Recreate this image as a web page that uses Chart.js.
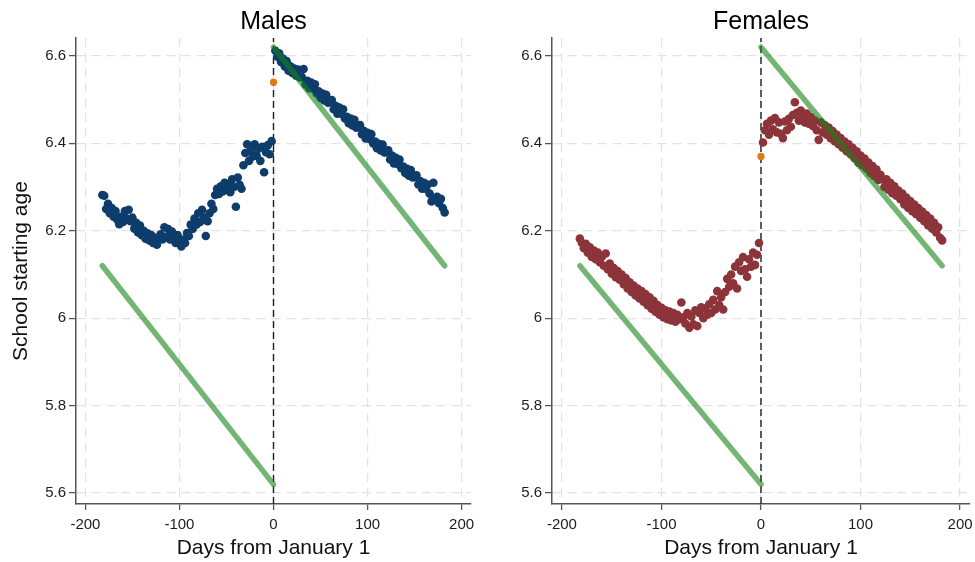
<!DOCTYPE html>
<html><head><meta charset="utf-8">
<script src="https://cdn.jsdelivr.net/npm/chart.js@4.4.0/dist/chart.umd.min.js"></script>
<style>
html,body{margin:0;padding:0;background:#fff;width:975px;height:562px;overflow:hidden}
#left{position:absolute;left:0;top:0}
#right{position:absolute;left:490px;top:0}
</style></head><body>
<canvas id="left" width="490" height="562"></canvas>
<canvas id="right" width="485" height="562"></canvas>
<script>
// ---------- data ----------
const daysBefore = [-182,-180,-178,-176,-174,-172,-170,-168,-166,-164,
  -162,-160,-158,-156,-154,-152,-150,-148,-146,-144,
  -142,-140,-138,-136,-134,-132,-130,-128,-126,-124,
  -122,-120,-118,-116,-114,-112,-110,-108,-106,-104,
  -102,-100,-98,-96,-94,-92,-90,-88,-86,-84,
  -82,-80,-78,-76,-74,-72,-70,-68,-66,-64,
  -62,-60,-58,-56,-54,-52,-50,-48,-46,-44,
  -42,-40,-38,-36,-34,-32,-30,-28,-26,-24,
  -22,-20,-18,-16,-14,-12,-10,-8,-6,-4,
  -2];
const daysAfter = [2,4,6,8,10,12,14,16,18,20,
  22,24,26,28,30,32,34,36,38,40,
  42,44,46,48,50,52,54,56,58,60,
  62,64,66,68,70,72,74,76,78,80,
  82,84,86,88,90,92,94,96,98,100,
  102,104,106,108,110,112,114,116,118,120,
  122,124,126,128,130,132,134,136,138,140,
  142,144,146,148,150,152,154,156,158,160,
  162,164,166,168,170,172,174,176,178,180,
  182];
const malesBefore = [6.282,6.280,6.250,6.262,6.240,6.252,6.232,6.245,6.225,6.215,
  6.232,6.220,6.245,6.228,6.248,6.222,6.230,6.205,6.218,6.196,
  6.212,6.190,6.200,6.182,6.194,6.178,6.190,6.172,6.184,6.168,
  6.180,6.192,6.180,6.208,6.186,6.204,6.180,6.198,6.184,6.172,
  6.190,6.176,6.164,6.180,6.172,6.195,6.188,6.214,6.204,6.228,
  6.214,6.240,6.220,6.248,6.230,6.188,6.222,6.240,6.262,6.250,
  6.282,6.296,6.284,6.302,6.290,6.310,6.294,6.305,6.288,6.318,
  6.300,6.255,6.322,6.305,6.296,6.350,6.378,6.398,6.360,6.385,
  6.370,6.398,6.372,6.388,6.360,6.392,6.334,6.380,6.396,6.375,
  6.405];
const malesAfter = [6.612,6.598,6.606,6.586,6.594,6.576,6.588,6.566,6.576,6.561,
  6.571,6.555,6.569,6.551,6.552,6.570,6.535,6.543,6.526,6.539,
  6.525,6.535,6.514,6.519,6.504,6.514,6.498,6.511,6.493,6.495,
  6.499,6.478,6.486,6.468,6.482,6.468,6.478,6.457,6.461,6.446,
  6.457,6.441,6.454,6.436,6.437,6.442,6.421,6.429,6.411,6.424,
  6.410,6.421,6.400,6.404,6.389,6.399,6.384,6.397,6.379,6.380,
  6.384,6.363,6.372,6.354,6.367,6.353,6.363,6.343,6.347,6.332,
  6.342,6.326,6.339,6.322,6.323,6.327,6.306,6.314,6.296,6.310,
  6.296,6.306,6.285,6.267,6.310,6.274,6.278,6.263,6.273,6.252,
  6.242];
const femalesBefore = [6.182,6.172,6.160,6.170,6.150,6.162,6.140,6.155,6.135,6.150,
  6.128,6.140,6.120,6.148,6.112,6.125,6.102,6.115,6.094,6.108,
  6.088,6.100,6.078,6.092,6.068,6.082,6.060,6.075,6.052,6.068,
  6.045,6.062,6.038,6.055,6.030,6.048,6.022,6.040,6.015,6.030,
  6.008,6.024,6.002,6.018,5.998,6.015,5.995,6.012,5.992,6.008,
  5.998,6.036,6.002,5.988,6.012,5.978,6.004,5.986,6.018,5.982,
  6.012,6.025,6.000,6.022,6.008,6.032,6.012,6.042,6.020,6.062,
  6.030,6.048,6.020,6.060,6.090,6.072,6.100,6.080,6.118,6.068,
  6.128,6.108,6.140,6.112,6.095,6.135,6.118,6.150,6.122,6.145,
  6.172];
const femalesAfter = [6.402,6.430,6.445,6.420,6.452,6.432,6.458,6.425,6.448,6.422,
  6.412,6.450,6.430,6.456,6.438,6.465,6.494,6.470,6.452,6.475,
  6.458,6.448,6.468,6.445,6.460,6.440,6.452,6.430,6.408,6.448,
  6.425,6.442,6.420,6.436,6.412,6.428,6.405,6.420,6.398,6.412,
  6.390,6.404,6.382,6.398,6.375,6.390,6.366,6.382,6.356,6.372,
  6.350,6.365,6.342,6.356,6.332,6.348,6.325,6.340,6.316,6.328,
  6.318,6.300,6.318,6.294,6.310,6.286,6.302,6.280,6.292,6.272,
  6.285,6.260,6.276,6.252,6.268,6.245,6.260,6.238,6.252,6.230,
  6.244,6.222,6.236,6.212,6.228,6.205,6.218,6.196,6.208,6.184,
  6.178];
const cutoffDay = 0;
const malesAtCutoff = 6.54;
const femalesAtCutoff = 6.37;
const idealDaysBefore = [-182, 0];
const idealAgeBefore = [6.12, 5.62];
const idealDaysAfter = [0, 182];
const idealAgeAfter = [6.62, 6.12];
const xTicks = [-200, -100, 0, 100, 200];
const xTickLabels = ['-200', '-100', '0', '100', '200'];
const yTicks = [5.6, 5.8, 6, 6.2, 6.4, 6.6];
const yTickLabels = ['5.6', '5.8', '6', '6.2', '6.4', '6.6'];
const panelTitles = ['Males', 'Females'];
const xAxisTitle = 'Days from January 1';
const yAxisTitle = 'School starting age';
const xRange = [-210, 210];
const yRange = [5.575, 6.641];

// ---------- chart ----------
const FONT = "'Liberation Sans', Arial, Helvetica, sans-serif";
Chart.defaults.font.family = FONT;

function toPoints(xs, ys) { return xs.map((x, i) => ({ x: x, y: ys[i] })); }

function makePanel(canvasId, title, before, after, atCutoff, dotColor, yAxisWidth, padRight, showYTitle) {
  const scatterPts = toPoints(daysBefore, before).concat(toPoints(daysAfter, after));
  const lineCommon = { showLine: true, pointRadius: 0, pointHoverRadius: 0, fill: false, tension: 0 };
  new Chart(document.getElementById(canvasId), {
    type: 'scatter',
    data: {
      datasets: [
        Object.assign({ data: toPoints(idealDaysBefore, idealAgeBefore), borderColor: 'rgba(22,132,22,0.6)', borderWidth: 5.5, borderCapStyle: 'round', order: 0 }, lineCommon),
        Object.assign({ data: toPoints(idealDaysAfter, idealAgeAfter), borderColor: 'rgba(22,132,22,0.6)', borderWidth: 5.5, borderCapStyle: 'round', order: 0 }, lineCommon),
        { data: [{ x: cutoffDay, y: atCutoff }], backgroundColor: '#e27a12', pointRadius: 3.6, pointBorderWidth: 0, pointHoverRadius: 3.6, order: 1 },
        { data: scatterPts, backgroundColor: dotColor, pointRadius: 4.3, pointBorderWidth: 0, pointHoverRadius: 4.3, order: 2 },
        Object.assign({ data: toPoints([cutoffDay, cutoffDay], yRange), borderColor: '#1e1e1e', borderWidth: 1.4, borderDash: [7, 4], order: 3 }, lineCommon)
      ]
    },
    options: {
      responsive: false, animation: false, devicePixelRatio: 1,
      layout: { padding: { left: 0, right: padRight, top: 0, bottom: 0 } },
      plugins: {
        legend: { display: false }, tooltip: { enabled: false },
        title: { display: true, text: title, fullSize: false, color: '#000', font: { size: 25, weight: 'normal', family: FONT }, padding: { top: 7, bottom: 1 } }
      },
      scales: {
        x: {
          type: 'linear', min: xRange[0], max: xRange[1],
          afterBuildTicks: s => { s.ticks = xTicks.map(v => ({ value: v })); },
          afterFit: s => { s.height = 58; s.paddingLeft = 0; s.paddingRight = 0; },
          ticks: { callback: (v, i) => xTickLabels[i], font: { size: 15 }, color: '#1c1c1c', padding: 6, maxRotation: 0, autoSkip: false },
          grid: { color: '#e2e2e2', lineWidth: 1.2, drawTicks: true, tickLength: 6, tickColor: '#555', tickWidth: 1.3, tickBorderDash: [] },
          border: { display: true, color: '#555', width: 1.5, dash: [9, 6] },
          title: { display: true, text: xAxisTitle, font: { size: 21 }, color: '#111', padding: { top: 0, bottom: 1.5 } }
        },
        y: {
          type: 'linear', min: yRange[0], max: yRange[1],
          afterBuildTicks: s => { s.ticks = yTicks.map(v => ({ value: v })); },
          afterFit: s => { s.width = yAxisWidth; },
          ticks: { callback: (v, i) => yTickLabels[i], font: { size: 15 }, color: '#1c1c1c', padding: 3 },
          grid: { color: '#e2e2e2', lineWidth: 1.2, drawTicks: true, tickLength: 7, tickColor: '#555', tickWidth: 1.3, tickBorderDash: [] },
          border: { display: true, color: '#555', width: 1.5, dash: [9, 6] },
          title: { display: showYTitle, text: yAxisTitle, font: { size: 21 }, color: '#111', padding: { top: 9, bottom: 0 } }
        }
      }
    }
  });
}

makePanel('left', panelTitles[0], malesBefore, malesAfter, malesAtCutoff, '#0e3c6b', 76, 19, true);
makePanel('right', panelTitles[1], femalesBefore, femalesAfter, femalesAtCutoff, '#8c343a', 62, 5, false);
</script>
</body></html>
